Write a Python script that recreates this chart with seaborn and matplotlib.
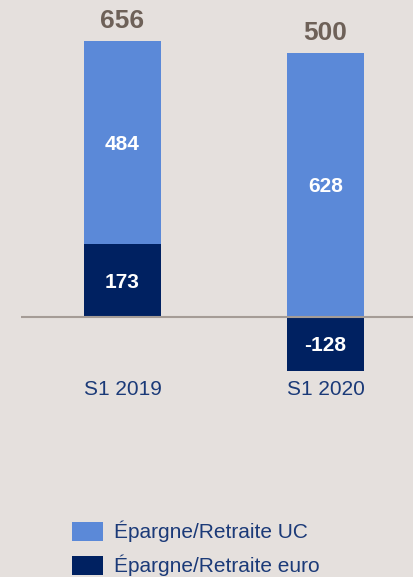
import numpy as np
import pandas as pd
import matplotlib
matplotlib.use("Agg")
import matplotlib.pyplot as plt
from matplotlib.patches import Patch
import seaborn as sns

# data
periods = ["S1 2019", "S1 2020"]
uc = [484, 628]
euro = [173, -128]
totals = [656, 500]
series_names = ["Épargne/Retraite UC", "Épargne/Retraite euro"]

c_uc = "#5b89d8"
c_euro = "#002161"
bg = "#e5e0dd"
navy_txt = "#1b3a78"
total_txt = "#6e6158"

sns.set_style("white", {"axes.facecolor": bg, "figure.facecolor": bg})
plt.rcParams["font.family"] = ["Liberation Sans", "DejaVu Sans"]

fig = plt.figure(figsize=(4.14, 5.77), dpi=100)
# axes from pixel x 21..414, y 0..374
ax = fig.add_axes([21 / 414, 1 - 374 / 577, 393 / 414, 374 / 577])

df = pd.DataFrame({"period": periods, "uc": uc, "euro": euro, "total": totals})
df["uc_top"] = df["euro"].clip(lower=0) + df["uc"]

bw = 0.384
sns.barplot(data=df, x="period", y="uc_top", color=c_uc, saturation=1,
            width=bw, ax=ax, zorder=2, edgecolor="none", linewidth=0)
sns.barplot(data=df, x="period", y="euro", color=c_euro, saturation=1,
            width=bw, ax=ax, zorder=3, edgecolor="none", linewidth=0)

scale = 0.4207  # px per unit
ax.set_xlim(-0.5, -0.5 + 393 / 203)
ax.set_ylim(-(374 - 317) / scale, 317 / scale)
ax.axhline(0, color="#a59c96", lw=1.5, zorder=4)

for i, row in df.iterrows():
    base = max(row["euro"], 0)
    ax.text(i, base + row["uc"] / 2, f"{row['uc']}", ha="center", va="center_baseline",
            color="white", fontsize=15, fontweight="bold", zorder=5)
    ax.text(i, row["euro"] / 2, f"{row['euro']}", ha="center", va="center_baseline",
            color="white", fontsize=15, fontweight="bold", zorder=5)
    ax.text(i, row["uc_top"] + 13 / scale, f"{row['total']}", ha="center",
            va="baseline", color=total_txt, fontsize=19, fontweight="bold")

for s in ax.spines.values():
    s.set_visible(False)
ax.set_yticks([])
ax.set_xlabel("")
ax.set_ylabel("")
ax.tick_params(axis="x", length=0, pad=4, labelsize=15, labelcolor=navy_txt)

handles = [Patch(facecolor=c_uc, edgecolor="none"), Patch(facecolor=c_euro, edgecolor="none")]
fig.legend(handles, series_names, loc="upper left",
           bbox_to_anchor=(72 / 414, 1 - 521 / 577), bbox_transform=fig.transFigure,
           frameon=False, fontsize=15, labelcolor=navy_txt, borderpad=0,
           borderaxespad=0, handlelength=1.5, handleheight=1.06,
           handletextpad=0.53, labelspacing=0.6)

fig.savefig("out.png", dpi=100, facecolor=bg)
